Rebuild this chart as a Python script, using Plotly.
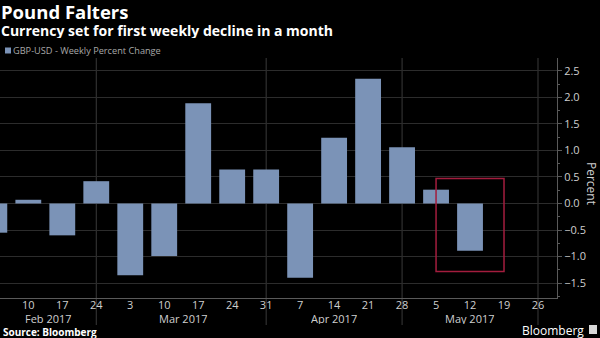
import plotly.graph_objects as go

# Weekly GBP-USD percent change (week ending Friday)
weeks = ["2017-02-03", "2017-02-10", "2017-02-17", "2017-02-24", "2017-03-03",
         "2017-03-10", "2017-03-17", "2017-03-24", "2017-03-31", "2017-04-07",
         "2017-04-14", "2017-04-21", "2017-04-28", "2017-05-05", "2017-05-12"]
pct_change = [-0.55, 0.07, -0.60, 0.42, -1.35, -0.99, 1.89, 0.64, 0.64, -1.40,
              1.24, 2.35, 1.06, 0.26, -0.89]

# Axis ticks
tick_dates = ["2017-02-10", "2017-02-17", "2017-02-24", "2017-03-03", "2017-03-10",
              "2017-03-17", "2017-03-24", "2017-03-31", "2017-04-07", "2017-04-14",
              "2017-04-21", "2017-04-28", "2017-05-05", "2017-05-12", "2017-05-19",
              "2017-05-26"]
tick_days = ["10", "17", "24", "3", "10", "17", "24", "31", "7", "14", "21", "28",
             "5", "12", "19", "26"]
month_labels = ["Feb 2017", "Mar 2017", "Apr 2017", "May 2017"]
month_centres = ["2017-02-14 06:00", "2017-03-14 00:00", "2017-04-14 00:00", "2017-05-12 00:00"]
month_dividers = ["2017-02-24", "2017-03-31", "2017-04-28", "2017-05-26"]

# Highlighted latest week
box_x = ["2017-05-05", "2017-05-19"]
box_y = [-1.28, 0.47]

BAR = "#7b93b7"
GRID = "#2c2c2c"
AXIS = "#5a5a5a"
TXT = "#cfcfcf"
FONT = "Open Sans"

PLOT_TOP, PLOT_BOTTOM, PLOT_RIGHT = 58, 298, 557
PLOT_H = PLOT_BOTTOM - PLOT_TOP


def py(pixel_y):
    return (PLOT_BOTTOM - pixel_y) / PLOT_H


def px(pixel_x):
    return pixel_x / PLOT_RIGHT


fig = go.Figure()
fig.add_trace(go.Bar(x=weeks, y=pct_change, marker=dict(color=BAR, line=dict(width=0)),
                     showlegend=False))

shapes = []
for d in month_dividers:
    shapes.append(dict(type="line", xref="x", yref="paper", x0=d, x1=d,
                       y0=py(325), y1=1, line=dict(color="#3a3a3a", width=1), layer="below"))
shapes.append(dict(type="rect", xref="x", yref="y", x0=box_x[0], x1=box_x[1],
                   y0=box_y[0], y1=box_y[1], line=dict(color="#a31d3e", width=1.5)))
# legend swatch
shapes.append(dict(type="rect", xref="paper", yref="paper", x0=px(5), x1=px(11),
                   y0=py(53.5), y1=py(47.5), fillcolor=BAR, line=dict(width=0)))
# small logo mark next to "Bloomberg"
shapes.append(dict(type="rect", xref="paper", yref="paper", x0=px(589), x1=px(597),
                   y0=py(334), y1=py(325), fillcolor="#d8d8d8", line=dict(width=0)))

annotations = [
    dict(text="<b>Pound Falters</b>", x=0, y=py(11.5), xref="paper", yref="paper",
         xanchor="left", yanchor="middle", showarrow=False, xshift=-1, height=20,
         font=dict(family=FONT, size=18.5, color="#ffffff")),
    dict(text="<b>Currency set for first weekly decline in a month</b>", x=0, y=py(29.5),
         xref="paper", yref="paper", xanchor="left", yanchor="middle", showarrow=False,
         xshift=-1, height=16, font=dict(family=FONT, size=14, color="#ffffff")),
    dict(text="GBP-USD - Weekly Percent Change",
         x=px(11), y=py(50.5), xref="paper", yref="paper", xanchor="left", yanchor="middle",
         showarrow=False, font=dict(family=FONT, size=9.2, color="#a8a8a8")),
    dict(text="<b>Source: Bloomberg</b>", x=0, y=py(331.5), xref="paper", yref="paper",
         xanchor="left", yanchor="middle", showarrow=False, xshift=1, height=12,
         font=dict(family=FONT, size=10, color="#ffffff")),
    dict(text="Bloomberg", x=px(586), y=py(330.5), xref="paper", yref="paper",
         xanchor="right", yanchor="middle", showarrow=False,
         font=dict(family=FONT, size=12, color="#ffffff")),
    dict(text="Percent", x=1, y=py(183), xref="paper", yref="paper", xanchor="center",
         yanchor="middle", showarrow=False, textangle=90, xshift=35,
         font=dict(family=FONT, size=12, color=TXT)),
]
for lab, c in zip(month_labels, month_centres):
    annotations.append(dict(text=lab, x=c, y=py(318), xref="x", yref="paper",
                            xanchor="center", yanchor="middle", showarrow=False,
                            height=12, font=dict(family=FONT, size=11, color=TXT)))

fig.update_layout(
    width=600, height=338,
    margin=dict(l=0, r=600 - PLOT_RIGHT, t=PLOT_TOP, b=338 - PLOT_BOTTOM),
    paper_bgcolor="#000000", plot_bgcolor="#000000",
    bargap=0.24,
    shapes=shapes, annotations=annotations,
    font=dict(family=FONT, color=TXT),
    xaxis=dict(
        type="date", range=["2017-02-04 04:00", "2017-05-29 22:00"],
        tickmode="array", tickvals=tick_dates, ticktext=tick_days,
        showgrid=False, zeroline=False, showline=True, linecolor=AXIS, linewidth=1,
        ticks="", ticklabelstandoff=-3, tickfont=dict(family=FONT, size=11, color=TXT),
    ),
    yaxis=dict(
        side="right", range=[-1.78, 2.74], tick0=0, dtick=0.5, tickformat=".1f",
        showgrid=True, gridcolor=GRID, gridwidth=1, zeroline=False,
        showline=True, linecolor=AXIS, linewidth=1,
        ticks="outside", ticklen=4, tickcolor=AXIS,
        minor=dict(dtick=0.25, tick0=0, ticks="outside", ticklen=2, tickcolor=AXIS, showgrid=False),
        tickfont=dict(family=FONT, size=11, color=TXT),
    ),
)

fig.write_html("out.html")
